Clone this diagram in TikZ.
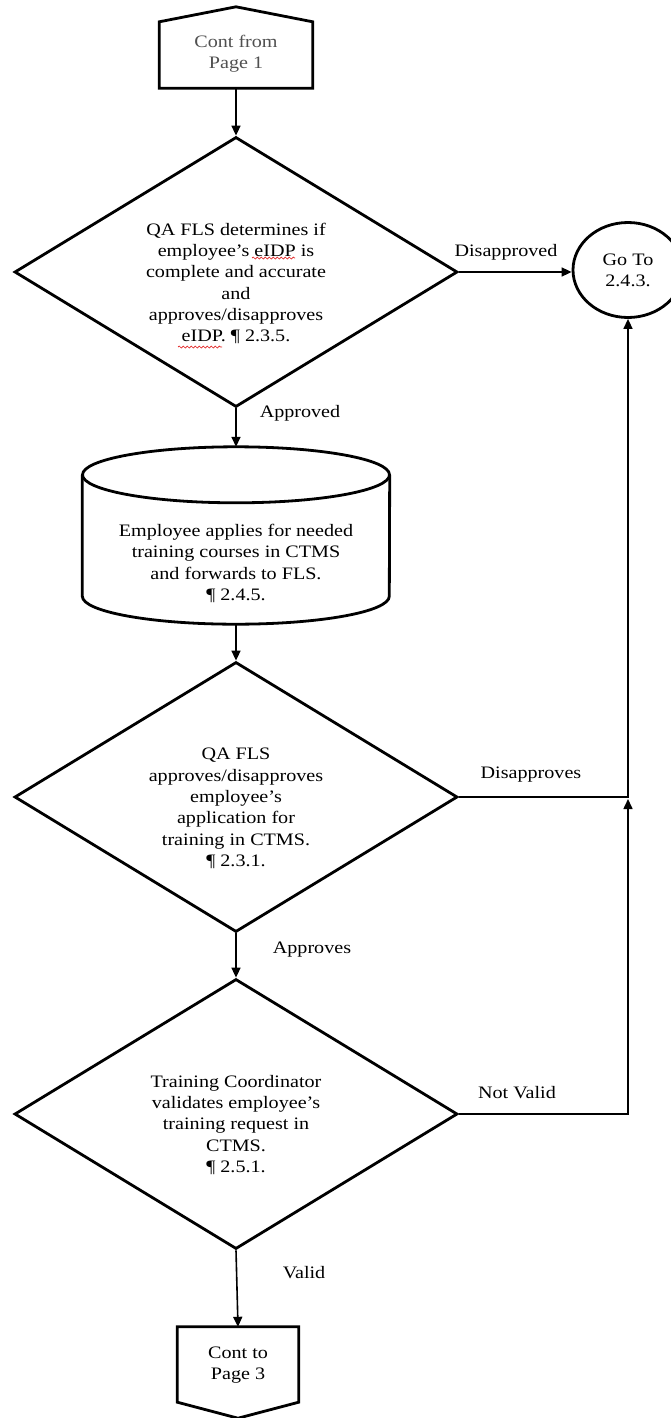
\documentclass[tikz,border=0pt]{standalone}
\usepackage{fontspec}
\setmainfont{Liberation Serif}[FakeStretch=1.15]
\usetikzlibrary{arrows.meta, calc, shapes.geometric, decorations.pathmorphing}
\definecolor{inkblack}{HTML}{000000}
\definecolor{pagegray}{HTML}{505050}
\definecolor{spellred}{HTML}{E02020}

\begin{document}
\begin{tikzpicture}[
  x=1pt, y=-1pt,
  >={Triangle[length=10pt, width=9pt]},
  font=\fontsize{17.5}{21.3}\selectfont,
  shapeline/.style={draw=inkblack, line width=2.8pt, line join=miter},
  decision/.style={diamond, shapeline, minimum width=443pt, minimum height=270pt,
    inner sep=0pt, aspect=1.64},
  txt/.style={align=center, inner sep=0pt},
  lbl/.style={inner sep=0pt},
  flow/.style={->, draw=inkblack, line width=1.6pt},
  spellmark/.style={spellred, line width=0.7pt,
    decorate, decoration={snake, segment length=4pt, amplitude=1pt}}
]

% Page frame
\useasboundingbox (0,0) rectangle (671,1418);

% ── Off-page connector (from page 1) ──
\node[minimum width=153pt, minimum height=66pt, inner sep=0pt] (contfrom) at (236,55) {};
\draw[shapeline] (contfrom.south west) -- (contfrom.north west)
  -- ($(contfrom.north)+(0,15pt)$) -- (contfrom.north east)
  -- (contfrom.south east) -- cycle;
\node[txt, text=pagegray] (contfromtxt) at (236,53.5) {Cont from\\Page 1};

% ── Decisions ──
\node[decision] (d1) at (236,272) {};
\node[txt] (d1txt) at (236,283.5)
  {QA FLS determines if\\employee’s eIDP is\\complete and accurate\\and\\approves/disapproves\\eIDP. ¶ 2.3.5.};
% spell-check marks under eIDP
\draw[spellmark] (252,258) -- (295,258);
\draw[spellmark] (178,347) -- (222,347);

\node[decision] (d2) at (236,797) {};
\node[txt] (d2txt) at (236,808.5)
  {QA FLS\\approves/disapproves\\employee’s\\application for\\training in CTMS.\\¶ 2.3.1.};

\node[decision] (d3) at (236,1114) {};
\node[txt] (d3txt) at (236,1125)
  {Training Coordinator\\validates employee’s\\training request in\\CTMS.\\¶ 2.5.1.};

% ── Stored data (cylinder) ──
\node[minimum width=307pt, minimum height=177pt, inner sep=0pt] (apply) at (236,535.5) {};
\draw[shapeline] ($(apply.north)+(0,-28pt)$) ellipse [x radius=153.5pt, y radius=28pt];
\draw[shapeline] ($(apply.north west)+(0,-28pt)$) -- ($(apply.south west)+(0,28pt)$)
  arc[start angle=180, end angle=360, x radius=153.5pt, y radius=28pt]
  -- ($(apply.north east)+(0,-28pt)$);
\node[txt] (applytxt) at (236,563.5)
  {Employee applies for needed\\training courses in CTMS\\and forwards to FLS.\\¶ 2.4.5.};

% ── Go-to connector ──
\node[ellipse, shapeline, minimum width=110pt, minimum height=95pt, inner sep=0pt,
  align=center] (goto) at (628,270) {Go To\\2.4.3.};

% ── Off-page connector (to page 3) ──
\node[minimum width=121pt, minimum height=75pt, inner sep=0pt] (contto) at (238,1364.5) {};
\draw[shapeline] (contto.north west) -- (contto.north east) -- (contto.south east)
  -- ($(contto.south)+(0,-16pt)$) -- (contto.south west) -- cycle;
\node[txt] (conttotxt) at (238,1365) {Cont to\\Page 3};

% ── Main flow ──
\draw[flow] (contfrom.south) -- (d1.north);
\draw[flow] (d1.south) -- (apply.north);
\draw[flow] (apply.south) -- (d2.north);
\draw[flow] (d2.south) -- (d3.north);
\draw[flow] (d3.south) -- (contto.north);

% ── Rejections back to 2.4.3 ──
\coordinate (join) at (goto.south |- d2.east);
\draw[flow] (d1.east) -- (goto.west |- d1.east);
\draw[flow] (d2.east) -| (goto.south);
\draw[flow, shorten >=2pt] (d3.east) -| (join);

% ── Branch labels ──
\node[lbl] (disapproved) at (506,252) {Disapproved};
\node[lbl] (approved) at (300,413) {Approved};
\node[lbl] (disapproves) at (531,775) {Disapproves};
\node[lbl] (approves) at (312,950) {Approves};
\node[lbl] (notvalid) at (517,1093) {Not Valid};
\node[lbl] (valid) at (304,1273) {Valid};

\end{tikzpicture}
\end{document}
